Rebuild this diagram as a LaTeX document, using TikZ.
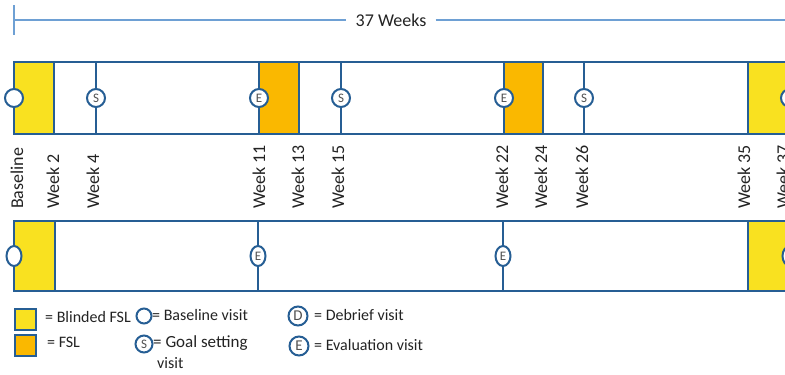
\documentclass[tikz,border=0pt]{standalone}
\usepackage{fontspec}
\setmainfont{Carlito}
\usetikzlibrary{shapes.geometric}

\definecolor{barblue}{RGB}{38,94,148}
\definecolor{spanblue}{RGB}{110,160,212}
\definecolor{blindyellow}{RGB}{249,225,32}
\definecolor{fslorange}{RGB}{250,184,0}
\definecolor{inkgray}{RGB}{35,35,35}
\definecolor{lettergray}{RGB}{80,80,80}

\tikzset{
  bar/.style={draw=barblue, line width=2.2pt},
  visit/.style={circle, draw=barblue, line width=2pt, fill=white, inner sep=0pt,
    minimum size=18pt, text=lettergray, font=\fontsize{13}{13}\selectfont},
  ovalvisit/.style={visit, ellipse, minimum width=15pt, minimum height=20pt},
  weeklabel/.style={rotate=90, anchor=west, inner sep=0pt, text=inkgray,
    font=\fontsize{18}{18}\selectfont},
  legendtext/.style={anchor=west, inner sep=0pt, text=inkgray,
    font=\fontsize{16}{16}\selectfont},
  legendbox/.style={draw=barblue, line width=2pt}
}

\begin{document}
\begin{tikzpicture}[x=1pt,y=-1pt]
    \useasboundingbox (0,0) rectangle (785,375);
    \clip (0,0) rectangle (785,375);

    % total length
    \node[inner xsep=9pt, inner ysep=0pt, text=inkgray, font=\fontsize{18}{18}\selectfont] (span) at (391,20) {37 Weeks};
    \draw[spanblue, line width=1.4pt] (14,5) -- (14,35);
    \draw[spanblue, line width=1.4pt] (14,20) -- (span.west);
    \draw[spanblue, line width=1.4pt] (span.east) -- (800,20);

    % upper arm
    \fill[blindyellow] (14,62) rectangle (54,134);
    \fill[fslorange] (259,62) rectangle (299,134);
    \fill[fslorange] (504,62) rectangle (543,134);
    \fill[blindyellow] (748,62) rectangle (830,134);
    \draw[bar] (14,62) rectangle (830,134);
    \draw[bar] (54,62) -- (54,134) (96,62) -- (96,134) (259,62) -- (259,134)
               (299,62) -- (299,134) (341,62) -- (341,134) (504,62) -- (504,134)
               (543,62) -- (543,134) (584,62) -- (584,134) (748,62) -- (748,134)
               (790,62) -- (790,134);

    \node[visit] (base1) at (14,98) {};
    \node[visit] (goal4) at (96,98) {S};
    \node[visit] (eval11) at (259,98) {E};
    \node[visit] (goal15) at (341,98) {S};
    \node[visit] (eval22) at (504,98) {E};
    \node[visit] (goal26) at (584,98) {S};
    \node[visit] (debrief1) at (790,98) {D};

    % week labels
    \node[weeklabel] (lbase) at (17,209) {Baseline};
    \node[weeklabel] (lw2) at (53,209) {Week 2};
    \node[weeklabel] (lw4) at (93,209) {Week 4};
    \node[weeklabel] (lw11) at (259,209) {Week 11};
    \node[weeklabel] (lw13) at (298,209) {Week 13};
    \node[weeklabel] (lw15) at (338,209) {Week 15};
    \node[weeklabel] (lw22) at (502,209) {Week 22};
    \node[weeklabel] (lw24) at (541,209) {Week 24};
    \node[weeklabel] (lw26) at (582,209) {Week 26};
    \node[weeklabel] (lw35) at (744,209) {Week 35};
    \node[weeklabel] (lw37) at (783,209) {Week 37};

    % lower arm
    \fill[blindyellow] (14,221) rectangle (55,291);
    \fill[blindyellow] (748,221) rectangle (830,291);
    \draw[bar] (14,221) rectangle (830,291);
    \draw[bar] (55,221) -- (55,291) (258,221) -- (258,291) (503,221) -- (503,291)
               (748,221) -- (748,291) (790,221) -- (790,291);

    \node[ovalvisit] (base2) at (14,256) {};
    \node[ovalvisit] (eval2a) at (258,256) {E};
    \node[ovalvisit] (eval2b) at (503,256) {E};
    \node[ovalvisit] (debrief2) at (790,256) {D};

    % legend
    \filldraw[legendbox, fill=blindyellow] (15,309) rectangle (36,330);
    \filldraw[legendbox, fill=fslorange] (15,335) rectangle (36,356);
    \node[legendtext] (kblind) at (45,317) {= Blinded FSL};
    \node[legendtext] (kfsl) at (47,342) {= FSL};

    \node[visit, minimum size=15pt] (kbase) at (144,316) {};
    \node[legendtext] (kbasetext) at (152,315) {= Baseline visit};
    \node[visit, minimum size=17pt, font=\fontsize{13}{13}\selectfont] (kgoal) at (144,344) {S};
    \node[legendtext, font=\fontsize{17}{17}\selectfont] (kgoaltext) at (153,343) {= Goal setting};
    \node[legendtext] (kgoalvisit) at (157,363) {visit};

    \node[visit, minimum size=19pt, font=\fontsize{15}{15}\selectfont] (kdeb) at (298,316) {D};
    \node[legendtext] (kdebtext) at (314,315) {= Debrief visit};
    \node[visit, minimum size=19pt, font=\fontsize{15}{15}\selectfont] (keval) at (299,346) {E};
    \node[legendtext] (kevaltext) at (314,345) {= Evaluation visit};
\end{tikzpicture}
\end{document}
